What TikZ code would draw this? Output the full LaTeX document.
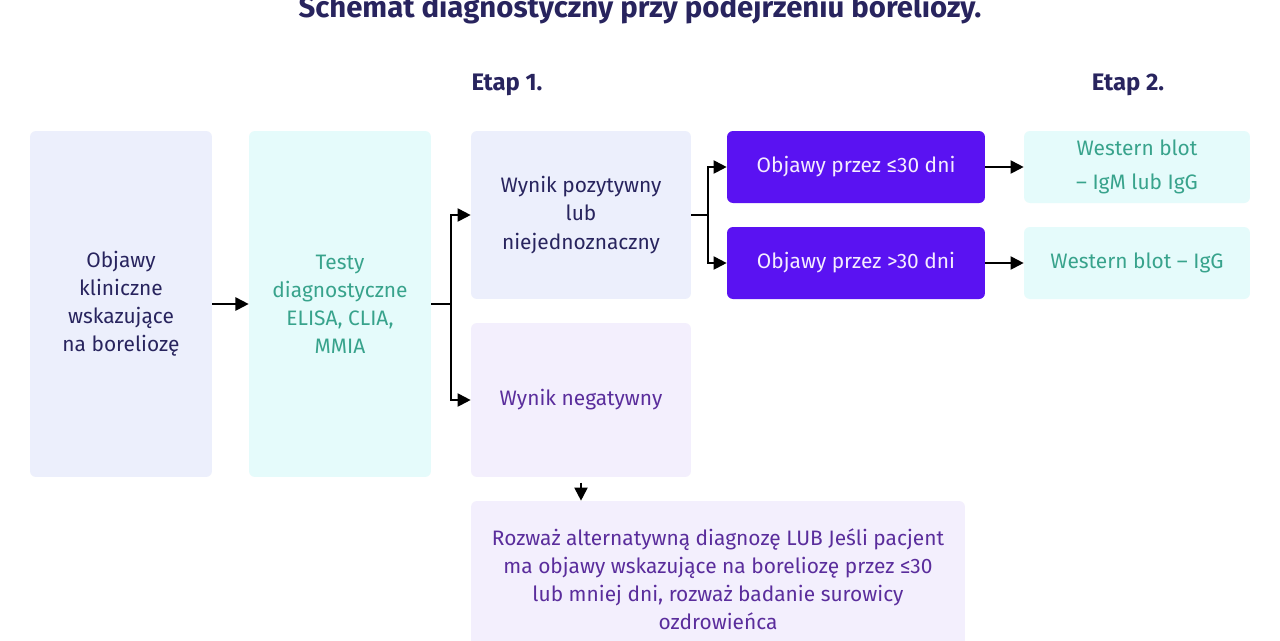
\documentclass[tikz,border=0pt]{standalone}
\usepackage{fontspec}
\setmainfont{Fira Sans}
\usepackage{tikz}
\usetikzlibrary{positioning, arrows.meta}

\definecolor{navy}{HTML}{28245E}
\definecolor{lavfill}{HTML}{ECEFFC}
\definecolor{cyanfill}{HTML}{E5FBFB}
\definecolor{teal}{HTML}{38A38C}
\definecolor{purpfill}{HTML}{F3EFFD}
\definecolor{purptext}{HTML}{5A2D9C}
\definecolor{vivid}{HTML}{5A12F2}
\definecolor{palewhite}{HTML}{F5ECFF}

\tikzset{
	box/.style={rounded corners=3.4pt, align=center, inner sep=2pt,
		font=\fontsize{11.9}{16}\selectfont},
	lavbox/.style={box, fill=lavfill, text=navy},
	cyanbox/.style={box, fill=cyanfill, text=teal},
	purpbox/.style={box, fill=purpfill, text=purptext},
	vividbox/.style={box, fill=vivid, text=palewhite},
	arr/.style={-{Triangle[length=7.5pt, width=7.5pt]}, line width=1.1pt},
	conn/.style={line width=1.1pt},
	stage/.style={text=navy, font=\fontsize{13.6}{15}\selectfont\bfseries}
}

\begin{document}
\begin{tikzpicture}[x=0.02cm, y=-0.02cm]
		\clip (0,0) rectangle (1280,640);
		\fill[white] (0,0) rectangle (1280,640);
		% title and stages
		\node[text=navy, font=\fontsize{16.7}{18}\selectfont\bfseries, anchor=base] (title) at (640,17) {Schemat diagnostyczny przy podejrzeniu boreliozy.};
		\node[stage] (etap1) at (507,85) {Etap 1.};
		\node[stage] (etap2) at (1128,85) {Etap 2.};
		% boxes
		\node[lavbox, minimum width=3.64cm, minimum height=6.92cm] (objawy) at (121,304) {Objawy\\kliniczne\\wskazujące\\na boreliozę};
		\node[cyanbox, minimum width=3.64cm, minimum height=6.92cm] (testy) at (340,304) {Testy\\diagnostyczne\\ELISA, CLIA,\\MMIA};
		\node[lavbox, minimum width=4.4cm, minimum height=3.36cm] (pozyt) at (581,215) {Wynik pozytywny\\lub\\niejednoznaczny};
		\node[purpbox, minimum width=4.4cm, minimum height=3.08cm] (negat) at (581,400) {Wynik negatywny};
		\node[vividbox, minimum width=5.16cm, minimum height=1.44cm] (krotko) at (856,167) {Objawy przez ≤30 dni};
		\node[vividbox, minimum width=5.16cm, minimum height=1.44cm] (dlugo) at (856,263) {Objawy przez >30 dni};
		\node[cyanbox, minimum width=4.52cm, minimum height=1.44cm] (wbigm) at (1137,167) {Western blot\\[3pt]– IgM lub IgG};
		\node[cyanbox, minimum width=4.52cm, minimum height=1.44cm] (wbigg) at (1137,263) {Western blot – IgG};
		\node[purpbox, minimum width=9.88cm, minimum height=3.12cm] (rozwaz) at (718,579) {Rozważ alternatywną diagnozę LUB Jeśli pacjent\\ma objawy wskazujące na boreliozę przez ≤30\\lub mniej dni, rozważ badanie surowicy\\ozdrowieńca};
		% connectors
		\draw[arr] (objawy) -- (testy);
		\draw[conn] (testy.east) -- ++(20,0) coordinate (split1);
		\draw[arr] (split1) |- (pozyt.west);
		\draw[arr] (split1) |- (negat.west);
		\draw[conn] (pozyt.east) -- ++(17,0) coordinate (split2);
		\draw[arr] (split2) |- (krotko.west);
		\draw[arr] (split2) |- (dlugo.west);
		\draw[arr] (krotko) -- (wbigm);
		\draw[arr] (dlugo) -- (wbigg);
		\draw[arr, shorten <=3pt] (negat.south) -- (negat.south |- rozwaz.north);
	\end{tikzpicture}
\end{document}
